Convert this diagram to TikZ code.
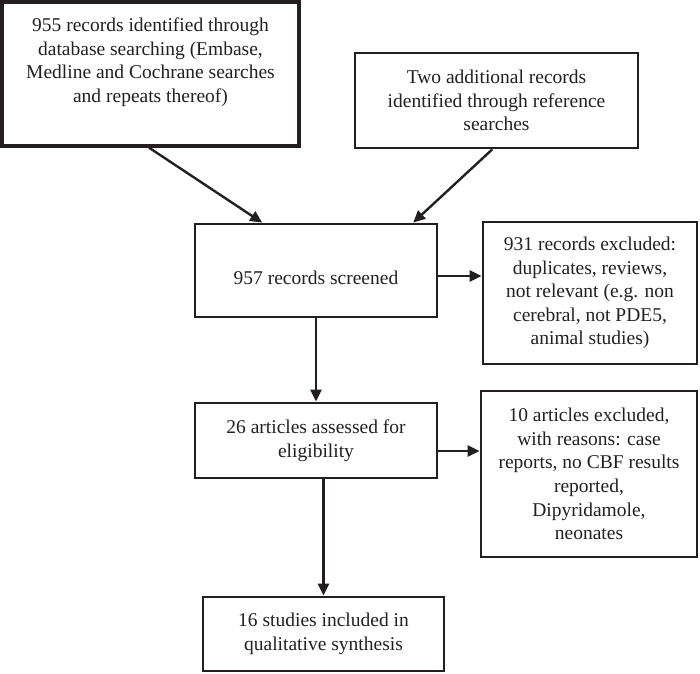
\documentclass[tikz,border=0pt]{standalone}
\usepackage{fontspec}
\setmainfont{Liberation Serif}
\usetikzlibrary{arrows.meta,calc}
\definecolor{ink}{HTML}{231F20}
\begin{document}
\begin{tikzpicture}[x=1pt,y=-1pt,
  box/.style={draw=ink,line width=2.8pt,rectangle,inner sep=0pt,align=center,
    font=\fontsize{19.5}{23.6}\selectfont,text=ink},
  arr/.style={draw=ink,line width=2.4pt,-{Triangle[length=12pt,width=11pt]}}]
\useasboundingbox (0,0) rectangle (700,673);
\node[box,line width=3.3pt,minimum width=297pt,minimum height=144pt] (b1) at (150.5,74)
  {955 records identified through\\database searching (Embase,\\Medline and Cochrane searches\\and repeats thereof)\rule[-28pt]{0pt}{28pt}};
\node[box,minimum width=283pt,minimum height=95pt] (b2) at (496.5,100.5)
  {Two additional records\\identified through reference\\searches};
\node[box,minimum width=242pt,minimum height=93pt] (b3) at (316,270.5)
  {\rule{0pt}{29pt}957 records screened};
\node[box,minimum width=214pt,minimum height=142pt] (b4) at (590,293)
  {931 records excluded:\\duplicates, reviews,\\not relevant (e.g. non\\cerebral, not PDE5,\\animal studies)};
\node[box,minimum width=242pt,minimum height=75pt] (b5) at (316,440.5)
  {26 articles assessed for\\eligibility};
\node[box,minimum width=216pt,minimum height=166pt] (b6) at (589,474)
  {10 articles excluded,\\with reasons: case\\reports, no CBF results\\reported,\\Dipyridamole,\\neonates};
\node[box,minimum width=241pt,minimum height=74pt] (b7) at (323.5,634)
  {16 studies included in\\qualitative synthesis};
\draw[arr] ($(b1.south west)!0.495!(b1.south east)$) -- ($(b3.north west)!0.28!(b3.north east)$);
\draw[arr] ($(b2.south west)!0.485!(b2.south east)$) -- ($(b3.north west)!0.897!(b3.north east)$);
\draw[arr] ($(b3.east)+(0,5.5)$) coordinate (p1) -- (p1 -| b4.west);
\draw[arr] (b3.south) -- (b5.north);
\draw[arr] ($(b5.east)+(0,10.5)$) coordinate (p2) -- (p2 -| b6.west);
\draw[arr] (b7.north |- b5.south) -- (b7.north);
\end{tikzpicture}
\end{document}
